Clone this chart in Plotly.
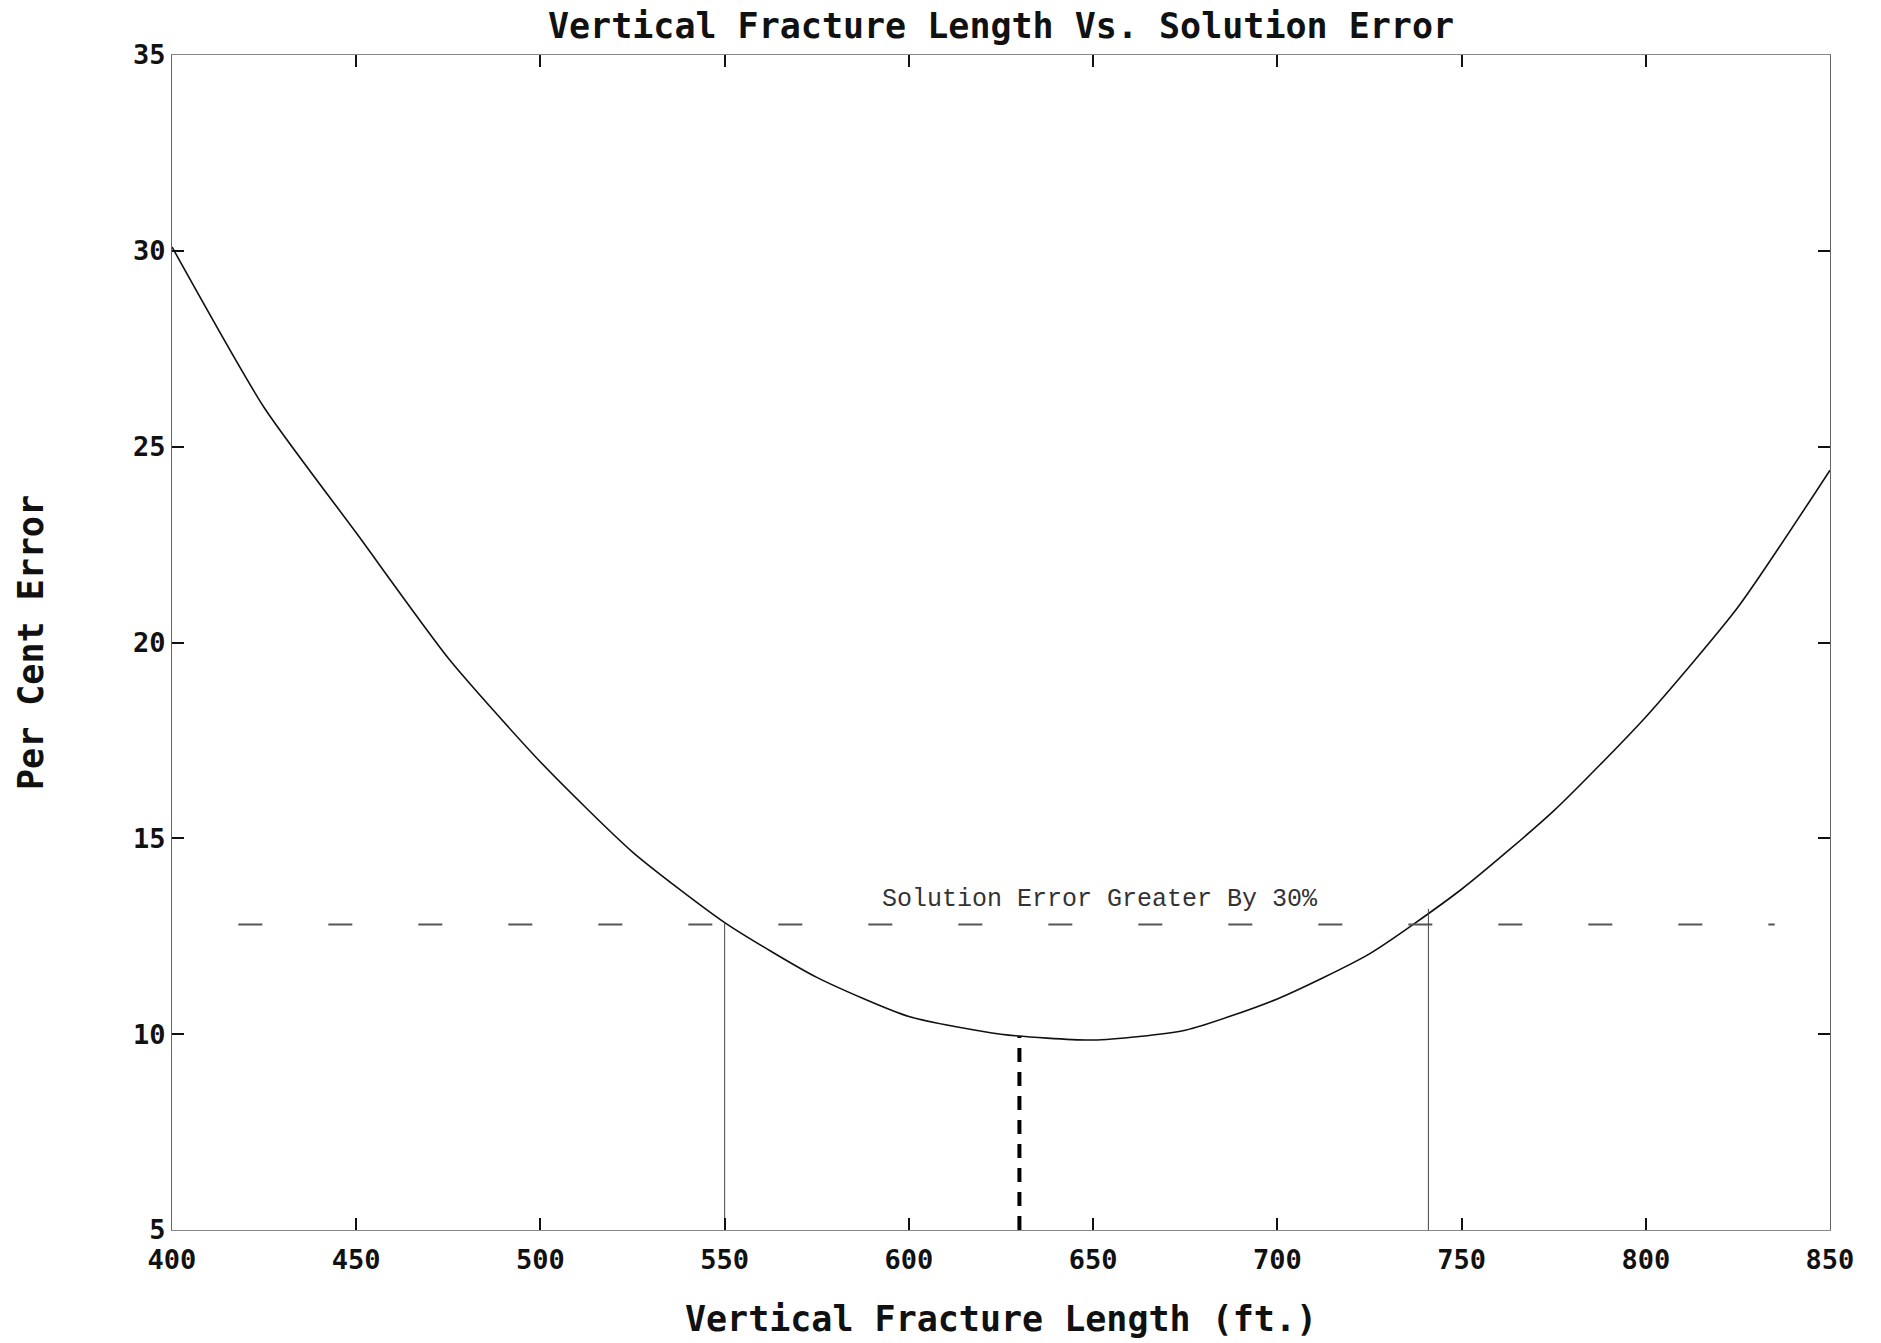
import plotly.graph_objects as go

# Data
length_ft = [400, 425, 450, 475, 500, 525, 550, 575, 600, 625, 650, 675, 700, 725, 750, 775, 800, 825, 850]
pct_error = [30.1, 26.0, 22.8, 19.6, 16.95, 14.65, 12.85, 11.45, 10.45, 10.0, 9.85, 10.1, 10.9, 12.05, 13.7, 15.7, 18.1, 20.9, 24.4]

threshold_x = [418, 835]
threshold_y = [12.8, 12.8]

left_bound_x = [550, 550]
left_bound_y = [5, 12.85]
right_bound_x = [741, 741]
right_bound_y = [5, 13.2]
optimum_x = [630, 630]
optimum_y = [5, 9.95]

annot_x, annot_y = 652, 13.45
annot_text = "Solution Error Greater By 30%"

x_ticks = [400, 450, 500, 550, 600, 650, 700, 750, 800, 850]
y_ticks = [5, 10, 15, 20, 25, 30, 35]

mono = "DejaVu Sans Mono"

fig = go.Figure()
fig.add_trace(go.Scatter(x=length_ft, y=pct_error, mode="lines",
                         line=dict(color="#111111", width=1.6, shape="spline", smoothing=0.6),
                         showlegend=False))
fig.add_trace(go.Scatter(x=threshold_x, y=threshold_y, mode="lines",
                         line=dict(color="#555555", width=1.8, dash="24px,66px"), showlegend=False))
fig.add_trace(go.Scatter(x=left_bound_x, y=left_bound_y, mode="lines",
                         line=dict(color="#444444", width=1), showlegend=False))
fig.add_trace(go.Scatter(x=right_bound_x, y=right_bound_y, mode="lines",
                         line=dict(color="#444444", width=1), showlegend=False))
fig.add_trace(go.Scatter(x=optimum_x, y=optimum_y, mode="lines",
                         line=dict(color="#000000", width=4, dash="14px,10px"), showlegend=False))

fig.add_annotation(x=annot_x, y=annot_y, text=annot_text, showarrow=False,
                   font=dict(family="Liberation Mono", size=25, color="#333333"))

fig.update_layout(
    width=1881, height=1343,
    margin=dict(l=172, r=51, t=55, b=113),
    paper_bgcolor="white", plot_bgcolor="white",
    title=dict(text="<b>Vertical Fracture Length Vs. Solution Error</b>",
               xref="paper", x=0.5, xanchor="center", y=0.981, yanchor="middle",
               font=dict(family=mono, size=35, color="#111111")),
    font=dict(family=mono, color="#111111"),
)
fig.update_xaxes(range=[400, 850], tickvals=x_ticks, ticktext=[f"<b>{v}</b>" for v in x_ticks],
                 ticks="inside", ticklen=12, tickwidth=2, tickcolor="#111111",
                 showline=True, linecolor="#888888", linewidth=1, mirror="ticks",
                 showgrid=False, zeroline=False, ticklabelstandoff=6,
                 tickfont=dict(family=mono, size=27, color="#111111"),
                 title=dict(text="<b>Vertical Fracture Length (ft.)</b>", standoff=32,
                            font=dict(family=mono, size=35, color="#111111")))
fig.update_yaxes(range=[5, 35], tickvals=y_ticks, ticktext=[f"<b>{v}</b>" for v in y_ticks],
                 ticks="inside", ticklen=12, tickwidth=2, tickcolor="#111111",
                 showline=True, linecolor="#666666", linewidth=1, mirror="ticks",
                 showgrid=False, zeroline=False,
                 tickfont=dict(family=mono, size=27, color="#111111"),
                 title=dict(text="<b>Per Cent Error</b>", standoff=78,
                            font=dict(family=mono, size=35, color="#111111")))

fig.write_html("out.html")
